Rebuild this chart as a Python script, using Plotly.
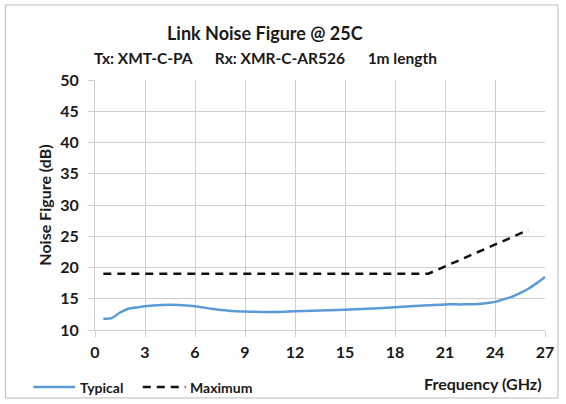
import plotly.graph_objects as go

typ_x = [0.5, 1.0, 1.5, 2.0, 2.5, 3, 4, 5, 6, 7, 8, 9, 10, 11, 12, 14, 16, 18, 20, 21, 22, 23, 23.5, 24, 24.5, 25, 25.5, 26, 26.5, 27]
typ_y = [11.8, 11.9, 12.8, 13.4, 13.6, 13.8, 14.0, 14.0, 13.8, 13.4, 13.1, 12.95, 12.9, 12.9, 13.0, 13.15, 13.35, 13.65, 13.95, 14.1, 14.1, 14.15, 14.3, 14.5, 14.9, 15.3, 15.9, 16.6, 17.5, 18.5]
max_x = [0.5, 20.0, 26.0]
max_y = [19.0, 19.0, 26.0]
x_ticks = [0, 3, 6, 9, 12, 15, 18, 21, 24, 27]
y_ticks = [10, 15, 20, 25, 30, 35, 40, 45, 50]

FONT = "Lato"
L, R, T, B = 95, 19, 80, 74
W, H = 566, 404
pw, ph = W - L - R, H - T - B

def px(x):
    return (x - L) / pw

def py(y):
    return (H - B - y) / ph

fig = go.Figure()
fig.add_trace(go.Scatter(x=typ_x, y=typ_y, mode="lines", name="Typical",
                         line=dict(color="#5B9BD5", width=2.5, shape="spline", smoothing=0.8),
                         showlegend=False))
fig.add_trace(go.Scatter(x=max_x, y=max_y, mode="lines", name="Maximum",
                         line=dict(color="#111111", width=2.5, dash="8px,6px"),
                         showlegend=False))

grid = "#cfcfcf"
tf = dict(family=FONT, size=16, color="#1a1a1a", weight="bold")
fig.update_xaxes(range=[0, 27], tickvals=x_ticks, showgrid=True, gridcolor=grid, gridwidth=1,
                 showline=True, linecolor=grid, ticks="outside", ticklen=6, tickcolor=grid,
                 tickfont=tf, zeroline=False, ticklabelstandoff=2, fixedrange=True)
fig.update_yaxes(range=[10, 50], tickvals=y_ticks, showgrid=True, gridcolor=grid, gridwidth=1,
                 showline=True, linecolor=grid, ticks="outside", ticklen=6, tickcolor=grid,
                 tickfont=tf, zeroline=False, ticklabelstandoff=6, fixedrange=True,
                 title=dict(text="<b>Noise Figure (dB)</b>", font=dict(family=FONT, size=16, color="#1a1a1a"), standoff=4))

annots = [
    dict(text="<b>Link Noise Figure @ 25C</b>", x=px(266), y=py(33), size=18),
    dict(text="<b>Tx: XMT-C-PA&nbsp;&nbsp;&nbsp;&nbsp;&nbsp;&nbsp;Rx: XMR-C-AR526&nbsp;&nbsp;&nbsp;&nbsp;&nbsp;&nbsp;1m length</b>", x=px(266), y=py(58), size=15.5),
]
for a in annots:
    fig.add_annotation(text=a["text"], x=a["x"], y=a["y"], xref="paper", yref="paper",
                       showarrow=False, xanchor="center", yanchor="middle",
                       font=dict(family=FONT, size=a["size"], color="#1a1a1a"))
fig.add_annotation(text="<b>Frequency (GHz)</b>", x=px(546), y=py(383), xref="paper", yref="paper",
                   showarrow=False, xanchor="right", yanchor="middle",
                   font=dict(family=FONT, size=16, color="#1a1a1a"))
# legend
fig.add_shape(type="line", xref="paper", yref="paper", x0=px(33), x1=px(75), y0=py(387), y1=py(387),
              line=dict(color="#5B9BD5", width=2.5))
fig.add_annotation(text="<b>Typical</b>", x=px(78), y=py(387), xref="paper", yref="paper",
                   showarrow=False, xanchor="left", yanchor="middle",
                   font=dict(family=FONT, size=14, color="#1a1a1a"))
fig.add_shape(type="line", xref="paper", yref="paper", x0=px(143), x1=px(186), y0=py(387), y1=py(387),
              line=dict(color="#111111", width=2.5, dash="8px,6px"))
fig.add_annotation(text="<b>Maximum</b>", x=px(188), y=py(387), xref="paper", yref="paper",
                   showarrow=False, xanchor="left", yanchor="middle",
                   font=dict(family=FONT, size=14, color="#1a1a1a"))
# outer frame
fig.add_shape(type="rect", xref="paper", yref="paper", x0=px(5), x1=px(560), y0=py(5), y1=py(398),
              line=dict(color="#bbbbbb", width=1))

fig.update_layout(width=W, height=H, margin=dict(l=L, r=R, t=T, b=B),
                  plot_bgcolor="white", paper_bgcolor="white", showlegend=False)
fig.write_html("out.html", config={"displayModeBar": False},
               post_script="document.body.style.margin='0';document.body.style.padding='0';document.body.style.overflow='hidden';")
